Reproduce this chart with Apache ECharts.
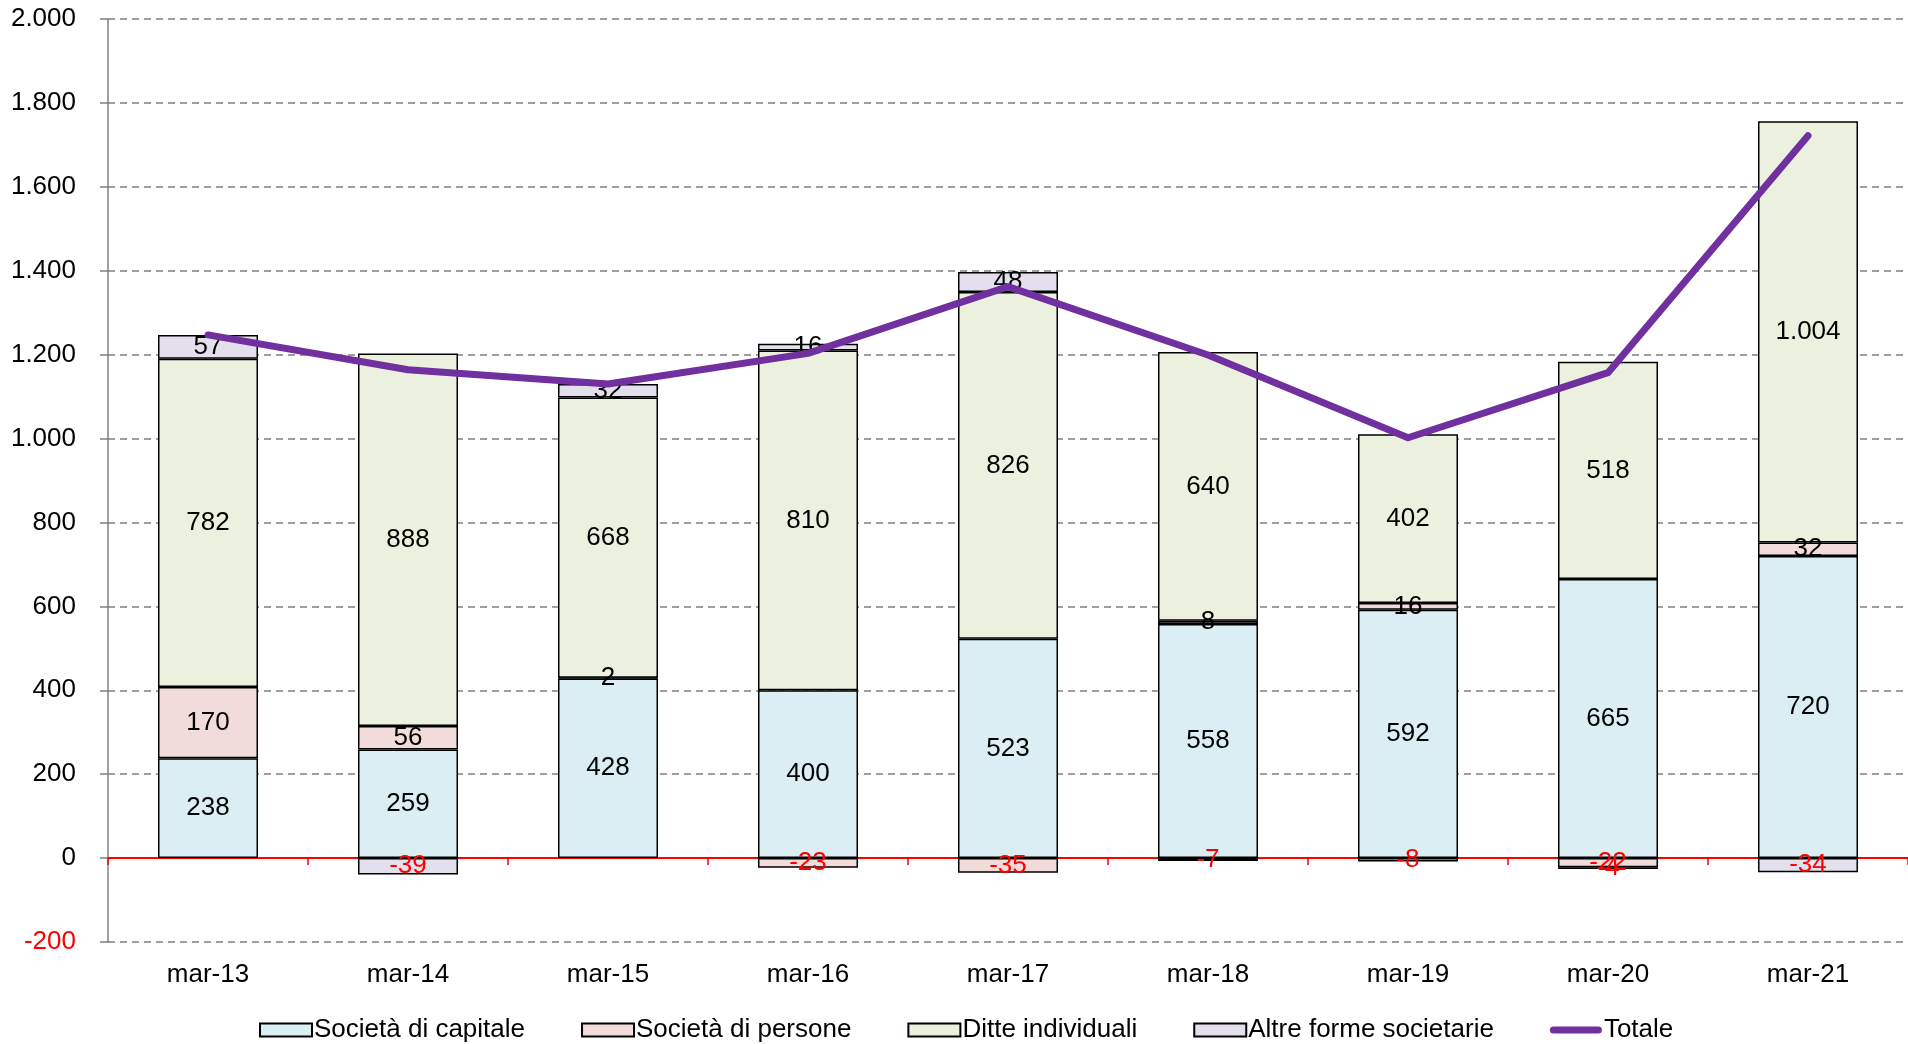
<!DOCTYPE html>
<html>
<head>
<meta charset="utf-8">
<script src="https://cdn.jsdelivr.net/npm/echarts@6/dist/echarts.min.js"></script>
<style>
  html, body { margin: 0; padding: 0; background: #fff; }
  #chart { width: 1908px; height: 1044px; }
</style>
</head>
<body>
<div id="chart"></div>
<script>
// dati
var categories = ['mar-13', 'mar-14', 'mar-15', 'mar-16', 'mar-17', 'mar-18', 'mar-19', 'mar-20', 'mar-21'];
var capitale = [238, 259, 428, 400, 523, 558, 592, 665, 720];
var persone = [170, 56, 2, -23, -35, 8, 16, -22, 32];
var ditte = [782, 888, 668, 810, 826, 640, 402, 518, 1004];
var altre = [57, -39, 32, 16, 48, -7, -8, -4, -34];
var totale = [1247, 1164, 1130, 1203, 1362, 1199, 1002, 1157, 1722];

var fontFam = '"Liberation Sans", Arial, sans-serif';

function fmt(v) {
    var s = String(Math.abs(v)).replace(/\B(?=(\d{3})+(?!\d))/g, '.');
    return (v < 0 ? '-' : '') + s;
}

function barSeries(name, data, color) {
    return {
        name: name,
        type: 'bar',
        stack: 'tot',
        barWidth: '50%',
        data: data.map(function (v) {
            return { value: v, label: { color: v < 0 ? '#FF0000' : '#000000' } };
        }),
        itemStyle: { color: color, borderColor: '#000', borderWidth: 1.5 },
        label: {
            show: true,
            position: 'inside',
            fontSize: 26,
            fontFamily: fontFam,
            formatter: function (p) { return fmt(p.value); }
        }
    };
}

// icona legenda per la linea (banda spessa con estremi arrotondati)
var lineIcon = 'path://M0,0 L0,0 M3.5,3 L48.5,3 A3.5,3.5 0 0 1 48.5,10 L3.5,10 A3.5,3.5 0 0 1 3.5,3 Z M52,13 L52,13';

var chart = echarts.init(document.getElementById('chart'));

var option = {
    animation: false,
    textStyle: { fontFamily: fontFam },
    grid: { left: 108, right: 0, top: 19, bottom: 102 },
    legend: {
        left: 254,
        top: 1012,
        itemWidth: 52,
        itemHeight: 13,
        itemGap: 56,
        textStyle: { fontSize: 26, color: '#000', fontFamily: fontFam, padding: [0, 0, 0, -3] },
        data: [
            { name: 'Società di capitale', icon: 'rect' },
            { name: 'Società di persone', icon: 'rect' },
            { name: 'Ditte individuali', icon: 'rect' },
            { name: 'Altre forme societarie', icon: 'rect' },
            { name: 'Totale', icon: lineIcon, itemStyle: { color: '#7030A0', borderWidth: 0 } }
        ]
    },
    xAxis: [
        {
            type: 'category',
            data: categories,
            axisLine: { onZero: true, lineStyle: { color: '#FF0000', width: 2 } },
            axisTick: { show: true, length: 7, lineStyle: { color: '#FF0000', width: 1.5 } },
            axisLabel: { show: false }
        },
        {
            type: 'category',
            data: categories,
            position: 'bottom',
            axisLine: { show: false, onZero: false },
            axisTick: { show: false },
            axisLabel: { fontSize: 26, color: '#000', margin: 20, fontFamily: fontFam }
        }
    ],
    yAxis: {
        type: 'value',
        min: -200,
        max: 2000,
        interval: 200,
        axisLine: { show: true, lineStyle: { color: '#808080', width: 1.5 } },
        axisTick: { show: true, length: 8, lineStyle: { color: '#808080', width: 1.5 } },
        axisLabel: {
            fontSize: 26,
            margin: 32,
            fontFamily: fontFam,
            formatter: function (v) { return fmt(v); },
            color: function (v) { return Number(v) < 0 ? '#FF0000' : '#000000'; }
        },
        splitLine: { show: true, lineStyle: { color: '#808080', width: 1.5, type: [7, 5] } }
    },
    series: [
        barSeries('Società di capitale', capitale, '#DAEEF3'),
        barSeries('Società di persone', persone, '#F2DCDB'),
        barSeries('Ditte individuali', ditte, '#EBF1DE'),
        barSeries('Altre forme societarie', altre, '#E4DFEC'),
        {
            name: 'Totale',
            type: 'line',
            data: totale,
            symbol: 'none',
            z: 5,
            itemStyle: { color: '#7030A0' },
            lineStyle: { color: '#7030A0', width: 7, cap: 'round', join: 'round' }
        }
    ]
};

chart.setOption(option);
</script>
</body>
</html>
